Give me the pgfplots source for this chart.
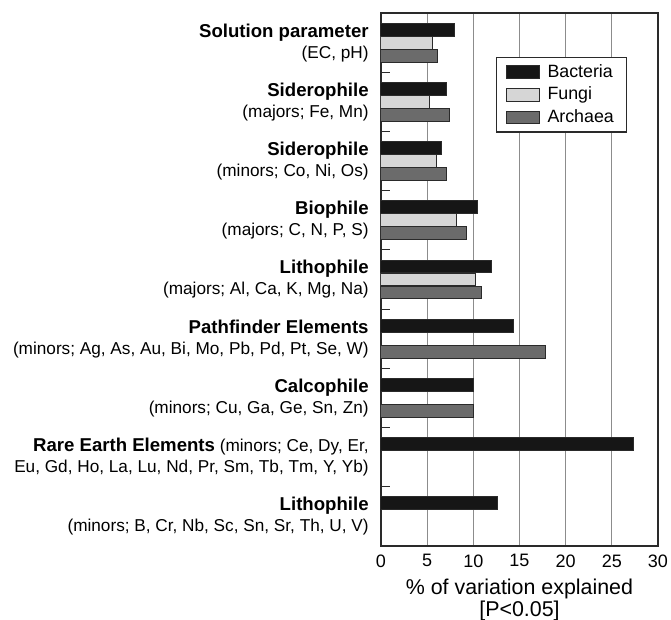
\documentclass[border=0pt]{standalone}
\usepackage{fontspec}
\setmainfont{Liberation Sans}
\usepackage{pgfplots}
\pgfplotsset{compat=1.18}
\definecolor{bac}{HTML}{161616}
\definecolor{fun}{HTML}{D6D6D6}
\definecolor{arc}{HTML}{6B6B6B}
\definecolor{bord}{HTML}{2A2A2A}
\definecolor{gridc}{HTML}{8C8C8C}
\newcommand\B[1]{{\fontsize{9.3pt}{10.5pt}\selectfont\bfseries #1}}
\begin{document}
\begin{tikzpicture}
\useasboundingbox (0,0) rectangle (335.5pt,310pt);
\begin{axis}[
  at={(190.5pt,37pt)}, anchor=south west,
  scale only axis, width=138.5pt, height=266.5pt,
  xbar, bar width=6.4pt,
  xmin=0, xmax=30, ymin=-0.5, ymax=8.5,
  xtick={0,5,...,30},
  xmajorgrids, grid style={line width=0.5pt, color=gridc},
  axis line style={line width=0.6pt, color=bord},
  ytick={0,...,8},
  yticklabels={
    {\B{Lithophile}\\(minors; B, Cr, Nb, Sc, Sn, Sr, Th, U, V)},
    {\B{Rare Earth Elements} (minors; Ce, Dy, Er,\\Eu, Gd, Ho, La, Lu, Nd, Pr, Sm, Tb, Tm, Y, Yb)},
    {\B{Calcophile}\\(minors; Cu, Ga, Ge, Sn, Zn)},
    {\B{Pathfinder Elements}\\(minors; Ag, As, Au, Bi, Mo, Pb, Pd, Pt, Se, W)},
    {\B{Lithophile}\\(majors; Al, Ca, K, Mg, Na)},
    {\B{Biophile}\\(majors; C, N, P, S)},
    {\B{Siderophile}\\(minors; Co, Ni, Os)},
    {\B{Siderophile}\\(majors; Fe, Mn)},
    {\B{Solution parameter}\\(EC, pH)}
  },
  minor ytick={0.5,1.5,...,7.5},
  tick align=inside, ytick pos=left, xtick pos=bottom,
  major tick length=0pt, minor tick length=4.5pt,
  minor tick style={line width=0.6pt, color=bord},
  yticklabel style={align=right, inner sep=0pt, xshift=-6pt,
    font=\fontsize{8.6pt}{10.5pt}\selectfont},
  xticklabel style={font=\fontsize{9pt}{10pt}\selectfont, inner sep=0pt, yshift=-4.1pt},
  /pgf/number format/assume math mode=true,
  xlabel={\% of variation explained\\{}[P<0.05]},
  xlabel style={at={(axis description cs:0.5,0)}, anchor=north, inner sep=0pt,
    yshift=-16.5pt, align=center, font=\fontsize{10.7pt}{10.6pt}\selectfont},
  legend style={at={(0.415,0.917)}, anchor=north west, draw=bord, line width=0.6pt,
    font=\fontsize{8.9pt}{10pt}\selectfont, inner xsep=4.5pt, inner ysep=1.5pt,
    nodes={inner sep=1.7pt, text depth=0.15em},
    /tikz/every odd column/.append style={column sep=2pt}},
  legend cell align=left,
  legend image code/.code={\draw[#1] (0pt,-3.2pt) rectangle (16.8pt,3.2pt);},
]
\addplot[fill=bac, draw=bord, line width=0.5pt, bar shift=6.5pt] coordinates {
  (12.67,0) (27.3,1) (10.0,2) (14.35,3) (11.93,4) (10.45,5) (6.55,6) (7.1,7) (7.95,8)};
\addplot[fill=fun, draw=bord, line width=0.5pt, bar shift=0pt] coordinates {
  (10.2,4) (8.16,5) (6.0,6) (5.3,7) (5.57,8)};
\addplot[fill=arc, draw=bord, line width=0.5pt, bar shift=-6.5pt] coordinates {
  (10.0,2) (17.86,3) (10.85,4) (9.26,5) (7.08,6) (7.47,7) (6.1,8)};
\legend{Bacteria, Fungi, Archaea}
\end{axis}
\end{tikzpicture}
\end{document}
